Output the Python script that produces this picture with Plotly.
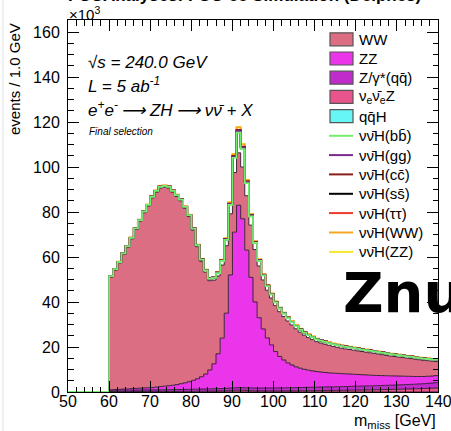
import numpy as np
import plotly.graph_objects as go

# ---------------------------------------------------------------------------
# Missing-mass histogram, 1 GeV bins from 50 to 140 GeV, values in 10^3 events.
# Bins 50-59 are empty; the lists below hold the bins 60 ... 139.
# ---------------------------------------------------------------------------
bin_lo, bin_hi = 50, 140
empty_bins = [0.0, 0.0, 0.0, 0.0, 0.0, 0.0, 0.0, 0.0, 0.0, 0.0]

# backgrounds
bkg_WW = [50.1, 53.1, 56.2, 59.9, 63.0, 66.6, 70.7, 74.3, 77.9, 80.8,
          84.3, 86.7, 88.3, 88.5, 87.9, 85.9, 83.7, 81.3, 77.6, 73.4,
          66.8, 58.7, 51.3, 45.3, 39.7, 37.2, 34.6, 32.5, 30.0, 27.2,
          26.5, 23.3, 23.0, 24.2, 23.2, 23.3, 23.0, 21.8, 21.2, 20.8,
          20.4, 19.9, 19.3, 18.6, 17.8, 16.9, 16.0, 15.2, 14.5, 13.9,
          13.3, 12.9, 12.6, 12.3, 11.9, 11.6, 11.3, 11.05, 10.9, 10.7,
          10.5, 10.3, 10.15, 9.95, 9.8, 9.55, 9.3, 9.05, 8.8, 8.65,
          8.45, 8.25, 8.1, 7.9, 7.7, 7.45, 7.2, 6.95, 6.65, 6.25]
bkg_ZZ = [0.22, 0.31, 0.39, 0.48, 0.56, 0.65, 0.73, 0.82, 0.90, 0.99,
          1.07, 1.25, 1.42, 1.60, 1.77, 1.94, 2.22, 2.58, 2.94, 3.40,
          3.96, 4.62, 5.48, 6.64, 8.40, 11.1, 15.5, 22.4, 33.4, 50.3,
          69.2, 81.1, 75.1, 61.2, 49.2, 38.3, 31.3, 26.3, 22.3, 19.2,
          16.2, 14.0, 12.4, 11.1, 10.1, 9.25, 8.61, 8.07, 7.63, 7.29,
          6.95, 6.71, 6.47, 6.23, 6.09, 5.95, 5.81, 5.66, 5.51, 5.36,
          5.21, 5.06, 4.91, 4.76, 4.61, 4.50, 4.39, 4.28, 4.17, 4.06,
          3.94, 3.81, 3.68, 3.55, 3.42, 3.31, 3.20, 3.17, 3.12, 3.15]
bkg_Zqq = [0.55, 0.56, 0.57, 0.58, 0.59, 0.60, 0.61, 0.62, 0.63, 0.64,
           0.65, 0.67, 0.69, 0.71, 0.73, 0.75, 0.77, 0.80, 0.83, 0.86,
           0.89, 0.92, 0.95, 0.98, 1.00, 1.02, 1.04, 1.06, 1.08, 1.10,
           1.12, 1.14, 1.16, 1.18, 1.20, 1.22, 1.24, 1.26, 1.28, 1.30,
           1.32, 1.34, 1.36, 1.38, 1.40, 1.42, 1.44, 1.46, 1.48, 1.50,
           1.52, 1.54, 1.56, 1.58, 1.60, 1.62, 1.64, 1.66, 1.68, 1.70,
           1.72, 1.74, 1.76, 1.78, 1.80, 1.82, 1.84, 1.86, 1.88, 1.90,
           1.93, 1.96, 1.99, 2.02, 2.05, 2.10, 2.15, 2.22, 2.30, 2.40]
bkg_nuenueZ = [0.20, 0.20, 0.21, 0.21, 0.22, 0.22, 0.23, 0.23, 0.24, 0.24,
               0.25, 0.25, 0.26, 0.26, 0.27, 0.28, 0.28, 0.29, 0.30, 0.31,
               0.32, 0.33, 0.34, 0.35, 0.37, 0.39, 0.42, 0.46, 0.52, 0.60,
               0.70, 0.75, 0.72, 0.64, 0.56, 0.50, 0.47, 0.45, 0.44, 0.44,
               0.44, 0.45, 0.46, 0.47, 0.48, 0.50, 0.52, 0.54, 0.56, 0.58,
               0.60, 0.62, 0.64, 0.66, 0.68, 0.70, 0.72, 0.75, 0.78, 0.81,
               0.84, 0.87, 0.90, 0.93, 0.96, 1.00, 1.04, 1.08, 1.12, 1.16,
               1.20, 1.25, 1.30, 1.35, 1.40, 1.46, 1.52, 1.58, 1.65, 1.72]
bkg_qqH = [0.02, 0.02, 0.02, 0.02, 0.02, 0.02, 0.02, 0.02, 0.02, 0.02,
           0.02, 0.02, 0.02, 0.02, 0.02, 0.02, 0.02, 0.02, 0.02, 0.02,
           0.02, 0.02, 0.02, 0.02, 0.02, 0.03, 0.03, 0.03, 0.03, 0.03,
           0.05, 0.05, 0.05, 0.05, 0.03, 0.03, 0.03, 0.03, 0.03, 0.03,
           0.02, 0.02, 0.02, 0.02, 0.02, 0.02, 0.02, 0.02, 0.02, 0.02,
           0.02, 0.02, 0.02, 0.02, 0.02, 0.02, 0.02, 0.02, 0.02, 0.02,
           0.02, 0.02, 0.02, 0.02, 0.02, 0.02, 0.02, 0.02, 0.02, 0.02,
           0.02, 0.02, 0.02, 0.02, 0.02, 0.02, 0.02, 0.02, 0.02, 0.02]

# signal: nu nubar H with the different Higgs decays
sig_bb = [0.40, 0.40, 0.41, 0.42, 0.43, 0.44, 0.45, 0.46, 0.47, 0.48,
          0.49, 0.50, 0.51, 0.52, 0.53, 0.54, 0.56, 0.58, 0.60, 0.62,
          0.65, 0.70, 0.75, 0.82, 0.92, 1.05, 1.30, 1.80, 2.60, 4.00,
          6.50, 9.00, 8.00, 5.60, 3.90, 2.90, 2.30, 2.00, 1.80, 1.60,
          1.50, 1.42, 1.36, 1.30, 1.25, 1.20, 1.16, 1.12, 1.09, 1.06,
          1.04, 1.02, 1.00, 0.98, 0.96, 0.95, 0.94, 0.93, 0.92, 0.91,
          0.90, 0.89, 0.88, 0.87, 0.86, 0.85, 0.84, 0.83, 0.82, 0.81,
          0.80, 0.79, 0.78, 0.77, 0.76, 0.75, 0.74, 0.73, 0.72, 0.71]
sig_gg = [0.03, 0.03, 0.03, 0.03, 0.03, 0.03, 0.03, 0.03, 0.03, 0.03,
          0.04, 0.04, 0.04, 0.04, 0.04, 0.04, 0.04, 0.04, 0.04, 0.04,
          0.05, 0.05, 0.06, 0.06, 0.07, 0.08, 0.10, 0.14, 0.20, 0.31,
          0.50, 0.70, 0.62, 0.43, 0.30, 0.22, 0.18, 0.16, 0.14, 0.12,
          0.12, 0.11, 0.11, 0.10, 0.10, 0.09, 0.09, 0.09, 0.08, 0.08,
          0.08, 0.08, 0.08, 0.07, 0.07, 0.07, 0.07, 0.07, 0.07, 0.07,
          0.07, 0.07, 0.07, 0.07, 0.06, 0.06, 0.06, 0.06, 0.06, 0.06,
          0.06, 0.06, 0.06, 0.06, 0.06, 0.06, 0.06, 0.06, 0.06, 0.06]
sig_cc = [0.01, 0.01, 0.01, 0.01, 0.01, 0.01, 0.01, 0.01, 0.01, 0.01,
          0.02, 0.02, 0.02, 0.02, 0.02, 0.02, 0.02, 0.02, 0.02, 0.02,
          0.02, 0.02, 0.02, 0.03, 0.03, 0.03, 0.04, 0.05, 0.08, 0.12,
          0.20, 0.28, 0.25, 0.17, 0.12, 0.09, 0.07, 0.06, 0.05, 0.05,
          0.04, 0.04, 0.04, 0.04, 0.04, 0.04, 0.04, 0.04, 0.04, 0.04,
          0.03, 0.03, 0.03, 0.03, 0.03, 0.03, 0.03, 0.03, 0.03, 0.03,
          0.03, 0.03, 0.03, 0.03, 0.03, 0.03, 0.03, 0.03, 0.03, 0.03,
          0.02, 0.02, 0.02, 0.02, 0.02, 0.02, 0.02, 0.02, 0.02, 0.02]
sig_ss = [0.001, 0.001, 0.001, 0.001, 0.001, 0.001, 0.001, 0.001, 0.001, 0.001,
          0.001, 0.001, 0.001, 0.001, 0.001, 0.001, 0.001, 0.001, 0.001, 0.001,
          0.001, 0.001, 0.001, 0.001, 0.001, 0.001, 0.001, 0.001, 0.001, 0.001,
          0.002, 0.003, 0.003, 0.002, 0.001, 0.001, 0.001, 0.001, 0.001, 0.001,
          0.001, 0.001, 0.001, 0.001, 0.001, 0.001, 0.001, 0.001, 0.001, 0.001,
          0.001, 0.001, 0.001, 0.001, 0.001, 0.001, 0.001, 0.001, 0.001, 0.001,
          0.001, 0.001, 0.001, 0.001, 0.001, 0.001, 0.001, 0.001, 0.001, 0.001,
          0.001, 0.001, 0.001, 0.001, 0.001, 0.001, 0.001, 0.001, 0.001, 0.001]
sig_tautau = [0.02, 0.02, 0.02, 0.02, 0.02, 0.02, 0.02, 0.02, 0.02, 0.02,
              0.03, 0.03, 0.03, 0.03, 0.03, 0.03, 0.03, 0.03, 0.03, 0.03,
              0.03, 0.03, 0.04, 0.04, 0.05, 0.05, 0.06, 0.08, 0.10, 0.14,
              0.20, 0.26, 0.24, 0.18, 0.13, 0.10, 0.08, 0.07, 0.06, 0.06,
              0.05, 0.05, 0.05, 0.05, 0.05, 0.05, 0.05, 0.05, 0.05, 0.05,
              0.05, 0.05, 0.05, 0.05, 0.05, 0.05, 0.05, 0.05, 0.05, 0.05,
              0.04, 0.04, 0.04, 0.04, 0.04, 0.04, 0.04, 0.04, 0.04, 0.04,
              0.04, 0.04, 0.04, 0.04, 0.04, 0.04, 0.04, 0.04, 0.04, 0.04]
sig_WW = [0.06, 0.06, 0.06, 0.07, 0.07, 0.07, 0.07, 0.08, 0.08, 0.08,
          0.08, 0.08, 0.08, 0.09, 0.09, 0.09, 0.09, 0.09, 0.09, 0.09,
          0.09, 0.10, 0.10, 0.11, 0.12, 0.14, 0.17, 0.23, 0.33, 0.50,
          0.80, 1.10, 0.98, 0.70, 0.49, 0.37, 0.30, 0.26, 0.23, 0.21,
          0.20, 0.19, 0.18, 0.18, 0.17, 0.17, 0.16, 0.16, 0.15, 0.15,
          0.15, 0.14, 0.14, 0.14, 0.13, 0.13, 0.13, 0.13, 0.12, 0.12,
          0.12, 0.12, 0.12, 0.11, 0.11, 0.11, 0.11, 0.11, 0.11, 0.10,
          0.10, 0.10, 0.10, 0.10, 0.10, 0.10, 0.10, 0.10, 0.10, 0.10]
sig_ZZ = [0.01, 0.01, 0.01, 0.01, 0.01, 0.01, 0.01, 0.01, 0.01, 0.01,
          0.01, 0.01, 0.01, 0.01, 0.01, 0.01, 0.01, 0.01, 0.01, 0.01,
          0.01, 0.02, 0.02, 0.02, 0.02, 0.02, 0.03, 0.04, 0.05, 0.08,
          0.12, 0.17, 0.15, 0.11, 0.08, 0.06, 0.05, 0.04, 0.04, 0.03,
          0.03, 0.03, 0.03, 0.03, 0.03, 0.03, 0.03, 0.03, 0.03, 0.03,
          0.03, 0.03, 0.03, 0.03, 0.03, 0.03, 0.03, 0.03, 0.03, 0.03,
          0.02, 0.02, 0.02, 0.02, 0.02, 0.02, 0.02, 0.02, 0.02, 0.02,
          0.02, 0.02, 0.02, 0.02, 0.02, 0.02, 0.02, 0.02, 0.02, 0.02]

MAC = "\u0304"  # combining macron for the antiparticle bars
bkg_labels = ["WW", "ZZ", "Z/\u03b3*(qq" + MAC + ")",
              "\u03bd<sub>e</sub>\u03bd" + MAC + "<sub>e</sub>Z", "qq" + MAC + "H"]
sig_labels = ["\u03bd\u03bd" + MAC + "H(bb" + MAC + ")",
              "\u03bd\u03bd" + MAC + "H(gg)",
              "\u03bd\u03bd" + MAC + "H(cc" + MAC + ")",
              "\u03bd\u03bd" + MAC + "H(ss" + MAC + ")",
              "\u03bd\u03bd" + MAC + "H(\u03c4\u03c4)",
              "\u03bd\u03bd" + MAC + "H(WW)",
              "\u03bd\u03bd" + MAC + "H(ZZ)"]

bkg_colors = ["#dc6e84", "#ea35ea", "#c02ccc", "#e8548c", "#66f6f6"]
sig_colors = ["#72ee6e", "#7a2a8c", "#8b1c1c", "#000000", "#ee3a2a", "#f5a623", "#f6e62a"]

bkg_series = [bkg_WW, bkg_ZZ, bkg_Zqq, bkg_nuenueZ, bkg_qqH]
sig_series = [sig_bb, sig_gg, sig_cc, sig_ss, sig_tautau, sig_WW, sig_ZZ]
x_ticks = [50, 60, 70, 80, 90, 100, 110, 120, 130, 140]

edges = np.arange(bin_lo, bin_hi + 1)


def full(vals):
    return np.array(empty_bins + vals, dtype=float)


def steps(cum):
    # value of each bin held across [edge_i, edge_i+1)
    return np.append(cum, cum[-1])


fig = go.Figure()

# backgrounds are stacked from the last legend entry (bottom) to WW (top)
cum = np.zeros(len(edges) - 1)
first = True
for vals, col in zip(reversed(bkg_series), reversed(bkg_colors)):
    cum = cum + full(vals)
    fig.add_trace(go.Scatter(
        x=edges, y=steps(cum), mode="lines",
        line=dict(shape="hv", color="rgba(45,25,45,0.9)", width=1),
        fill="tozeroy" if first else "tonexty", fillcolor=col,
        showlegend=False, hoverinfo="skip"))
    first = False

# signals are stacked on top of the backgrounds as outlines only
sig_levels = []
for vals in sig_series:
    cum = cum + full(vals)
    sig_levels.append(cum.copy())
for lvl, col in reversed(list(zip(sig_levels, sig_colors))):
    fig.add_trace(go.Scatter(
        x=edges, y=steps(lvl), mode="lines",
        line=dict(shape="hv", color=col, width=1.8),
        showlegend=False, hoverinfo="skip"))

W, H = 451, 431
ML, MR, MT, MB = 68, 13, 20, 39
PW, PH = W - ML - MR, H - MT - MB


def fx(px):
    return (px - ML) / PW


def fy(py):
    return (H - MB - py) / PH


FONT = "Liberation Sans, Arial, Helvetica, sans-serif"
ann = []
shapes = []


def label(text, px, py, size, xanchor="left", yanchor="middle", family=FONT, **kw):
    ann.append(dict(text=text, x=fx(px), y=fy(py), xref="paper", yref="paper",
                    xanchor=xanchor, yanchor=yanchor, showarrow=False,
                    font=dict(size=size, family=family, color="black"), **kw))


# header line above the frame
label("<b>FCCAnalyses: FCC-ee Simulation (Delphes)</b>", 244, 7.5, 17,
      xanchor="center", yanchor="bottom")
label("\u00d710<sup>3</sup>", 67, 13.5, 15)
label("events / 1.0 GeV", 14, 21, 15, xanchor="center", yanchor="top", textangle=-90)
label("m<sub>miss</sub> [GeV]", 438, 421, 16, xanchor="right")

# x tick labels, set just below the frame
for t in x_ticks:
    ann.append(dict(text=str(t), x=t, xref="x", y=fy(401.5), yref="paper",
                    xanchor="center", yanchor="middle", showarrow=False,
                    font=dict(size=16, family=FONT, color="black")))

# physics labels
label("<i>\u221as = 240.0 GeV</i>", 86, 62, 17)
label("<i>L = 5 ab<sup>-1</sup></i>", 86, 85, 17)
label("<i>e<sup>+</sup>e<sup>-</sup>\u2009\u27f6 ZH\u2009\u27f6 \u03bd\u03bd" + MAC + " + X</i>",
      86, 109, 17)
label("<i>Final selection</i>", 87, 131, 10)
label("<b>Znunu</b>", 341, 292, 56, family="DejaVu Sans, Liberation Sans, sans-serif")

# legend
row_y = [39.3, 58.5, 77.7, 96.9, 116.1, 135.8, 155.1, 174.4, 193.8, 213.1, 232.5, 251.9]
labels = bkg_labels + sig_labels
for i, lab in enumerate(labels):
    yc = row_y[i]
    if i < len(bkg_labels):
        shapes.append(dict(type="rect", xref="paper", yref="paper",
                           x0=fx(330), x1=fx(353), y0=fy(yc - 6.5), y1=fy(yc + 6.5),
                           fillcolor=bkg_colors[i], line=dict(color="#555555", width=1.2)))
    else:
        shapes.append(dict(type="line", xref="paper", yref="paper",
                           x0=fx(329), x1=fx(353), y0=fy(yc), y1=fy(yc),
                           line=dict(color=sig_colors[i - len(bkg_labels)], width=2)))
    label(lab, 357, yc, 15)

# faint border line at the left of the canvas
shapes.append(dict(type="line", xref="paper", yref="paper", x0=fx(3), x1=fx(3),
                   y0=fy(0), y1=fy(431), line=dict(color="#e2e2e2", width=1)))

axis_common = dict(showline=True, linecolor="black", linewidth=1, mirror="allticks",
                   ticks="inside", tickcolor="black", showgrid=False, zeroline=False,
                   tickfont=dict(size=16, family=FONT, color="black"))

fig.update_layout(
    width=W, height=H,
    margin=dict(l=ML, r=MR, t=MT, b=MB, pad=0),
    paper_bgcolor="white", plot_bgcolor="white",
    showlegend=False,
    annotations=ann, shapes=shapes,
    xaxis=dict(range=[bin_lo, bin_hi], tick0=50, dtick=10, ticklen=11,
               showticklabels=False,
               minor=dict(ticks="inside", dtick=2, ticklen=5.5, tickcolor="black"),
               **axis_common),
    yaxis=dict(range=[0, 165.4], tick0=0, dtick=20, ticklen=11,
               minor=dict(ticks="inside", dtick=5, ticklen=5.5, tickcolor="black"),
               ticklabelstandoff=4,
               **axis_common),
)

fig.write_html("out.html")
